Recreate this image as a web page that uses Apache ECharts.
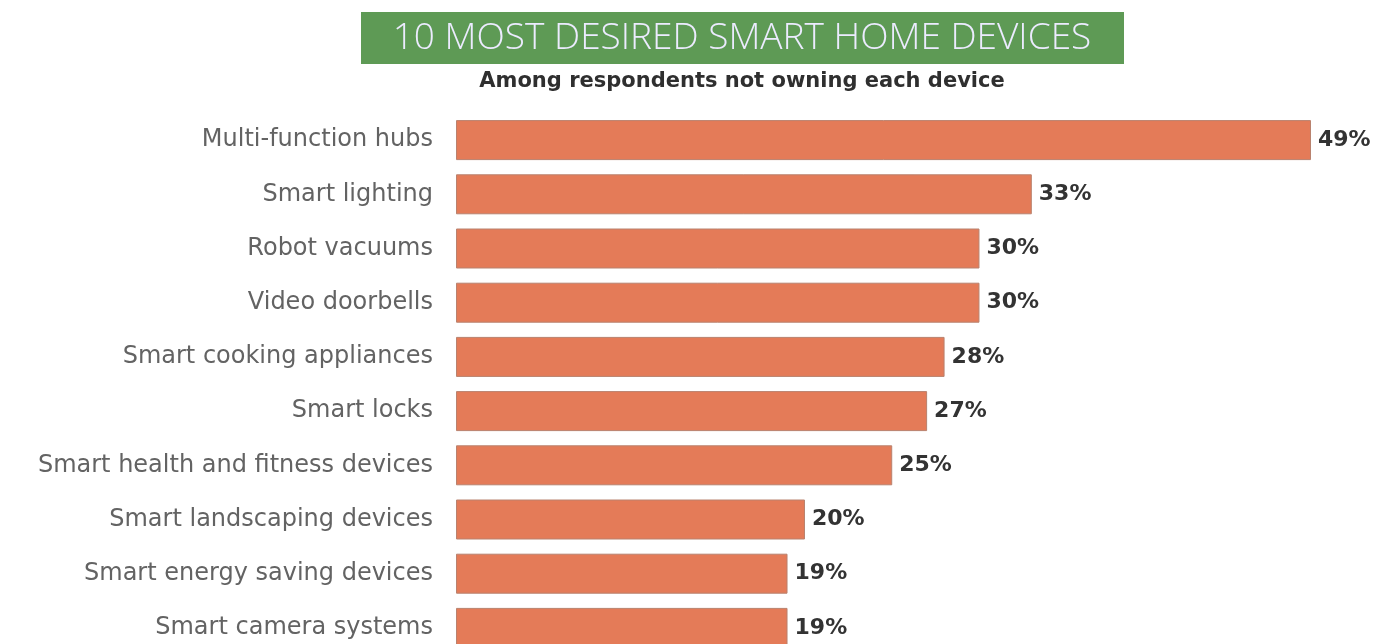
<!DOCTYPE html>
<html><head><meta charset="utf-8">
<script src="https://cdn.jsdelivr.net/npm/echarts@6/dist/echarts.min.js"></script>
<style>html,body{margin:0;padding:0;background:#fff}#c{width:1376px;height:644px}</style>
</head><body><div id="c"></div>
<script>
const categories = ["Multi-function hubs","Smart lighting","Robot vacuums","Video doorbells","Smart cooking appliances","Smart locks","Smart health and fitness devices","Smart landscaping devices","Smart energy saving devices","Smart camera systems"];
const values = [49,33,30,30,28,27,25,20,19,19];
const titleText = "10 MOST DESIRED SMART HOME DEVICES";
const subtitleText = "Among respondents not owning each device";

const chart = echarts.init(document.getElementById('c'));
chart.setOption({
  animation:false,
  graphic:[
    {type:'rect', left:361, top:12, shape:{width:763,height:52}, style:{fill:'#5E9A55'}, z:1},
    {type:'text', x:742, y:38, z:2, style:{text:titleText, fill:'#ECEBFF', font:'300 37px "Open Sans"', textAlign:'center', textVerticalAlign:'middle'}},
    {type:'text', x:742, y:82, z:2, style:{text:subtitleText, fill:'#2f2f2f', font:'bold 21px "DejaVu Sans"', textAlign:'center', textVerticalAlign:'middle'}}
  ],
  grid:{left:456, right:65, top:113, height:542, containLabel:false, outerBoundsMode:'none'},
  xAxis:{type:'value', min:0, max:49, show:false},
  yAxis:{type:'category', data:categories, inverse:true,
    axisLine:{show:false}, axisTick:{show:false},
    axisLabel:{margin:23, fontSize:24, color:'#636363', fontFamily:'"DejaVu Sans"', fontWeight:'normal'}},
  series:[{type:'bar', data:values, barWidth:40,
    itemStyle:{color:'#E47B58', borderColor:'#b9826e', borderWidth:1},
    label:{show:true, position:'right', distance:7, formatter:'{c}%', fontSize:22, fontWeight:'bold', color:'#333', fontFamily:'"DejaVu Sans"'}}]
});
</script></body></html>
